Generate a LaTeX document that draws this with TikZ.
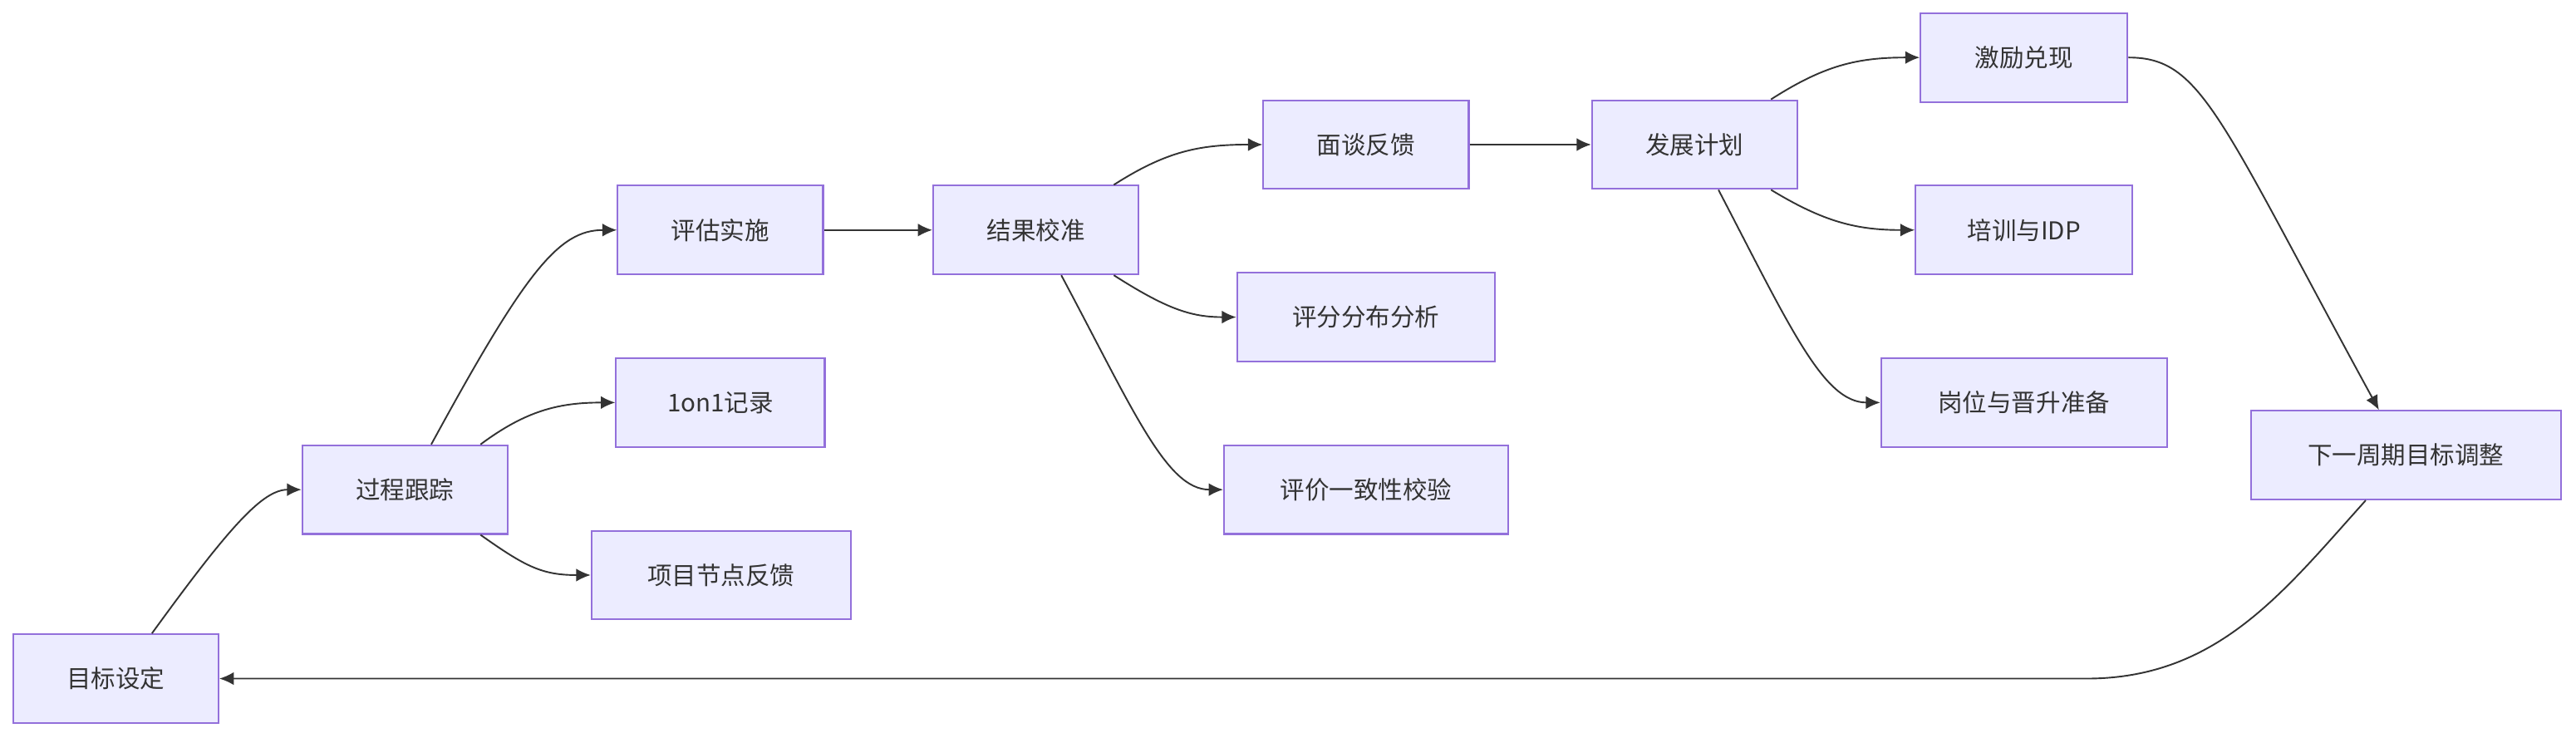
\documentclass[tikz,border=0pt]{standalone}
\usepackage{fontspec}
\setmainfont{Noto Sans CJK SC}
\usetikzlibrary{arrows.meta}
\definecolor{nf}{HTML}{ECECFF}
\definecolor{ns}{HTML}{9370DB}
\definecolor{ec}{HTML}{333333}
\begin{document}
\begin{tikzpicture}[x=0.02cm,y=-0.02cm,
  box/.style={draw=ns,fill=nf,line width=0.6pt,minimum height=1.08cm,inner sep=0pt,font=\fontsize{8.5pt}{10pt}\selectfont,text=ec},
  e/.style={draw=ec,line width=0.55pt,-{Latex[length=5pt,width=4.5pt]}}]
\useasboundingbox[fill=white] (0,0) rectangle (1568,449);
\node[box,minimum width=2.5cm] (a) at (70.5,413) {目标设定};
\node[box,minimum width=2.5cm] (b) at (246.5,298) {过程跟踪};
\node[box,minimum width=2.5cm] (c) at (438.5,140) {评估实施};
\node[box,minimum width=2.54cm] (d) at (438.5,245) {1on1记录};
\node[box,minimum width=3.16cm] (f) at (439,350) {项目节点反馈};
\node[box,minimum width=2.5cm] (g) at (630.5,140) {结果校准};
\node[box,minimum width=2.5cm] (h) at (831.5,88) {面谈反馈};
\node[box,minimum width=3.14cm] (i) at (831.5,193) {评分分布分析};
\node[box,minimum width=3.46cm] (j) at (831.5,298) {评价一致性校验};
\node[box,minimum width=2.5cm] (k) at (1031.5,88) {发展计划};
\node[box,minimum width=2.52cm] (l) at (1232,35) {激励兑现};
\node[box,minimum width=2.64cm] (m) at (1232,140) {培训与IDP};
\node[box,minimum width=3.48cm] (n) at (1232,245) {岗位与晋升准备};
\node[box,minimum width=3.78cm] (o) at (1464.5,277) {下一周期目标调整};
\draw[e] ([xshift=0.44cm]a.north) .. controls (140,320) and (160,298) .. (b.west);
\draw[e] ([xshift=0.32cm]b.north) .. controls (320,165) and (340,140) .. (c.west);
\draw[e] ([xshift=0.92cm]b.north) .. controls (320,250) and (340,245) .. (d.west);
\draw[e] ([xshift=0.92cm]b.south) .. controls (320,345) and (330,350) .. (f.west);
\draw[e] (c) -- (g);
\draw[e] ([xshift=0.95cm]g.north) .. controls (710,92) and (730,88) .. (h.west);
\draw[e] ([xshift=0.95cm]g.south) .. controls (710,188) and (725,193) .. (i.west);
\draw[e] ([xshift=0.31cm]g.south) .. controls (690,250) and (710,298) .. (j.west);
\draw[e] (h) -- (k);
\draw[e] ([xshift=0.93cm]k.north) .. controls (1110,40) and (1130,35) .. (l.west);
\draw[e] ([xshift=0.93cm]k.south) .. controls (1110,135) and (1130,140) .. (m.west);
\draw[e] ([xshift=0.29cm]k.south) .. controls (1090,200) and (1110,245) .. (n.west);
\draw[e] (l.east) .. controls (1340,35) and (1350,70) .. ([xshift=-0.33cm]o.north);
\draw[e] ([xshift=-0.49cm]o.south) .. controls (1390,360) and (1350,413) .. (1270,413) -- (a.east);
\end{tikzpicture}
\end{document}
